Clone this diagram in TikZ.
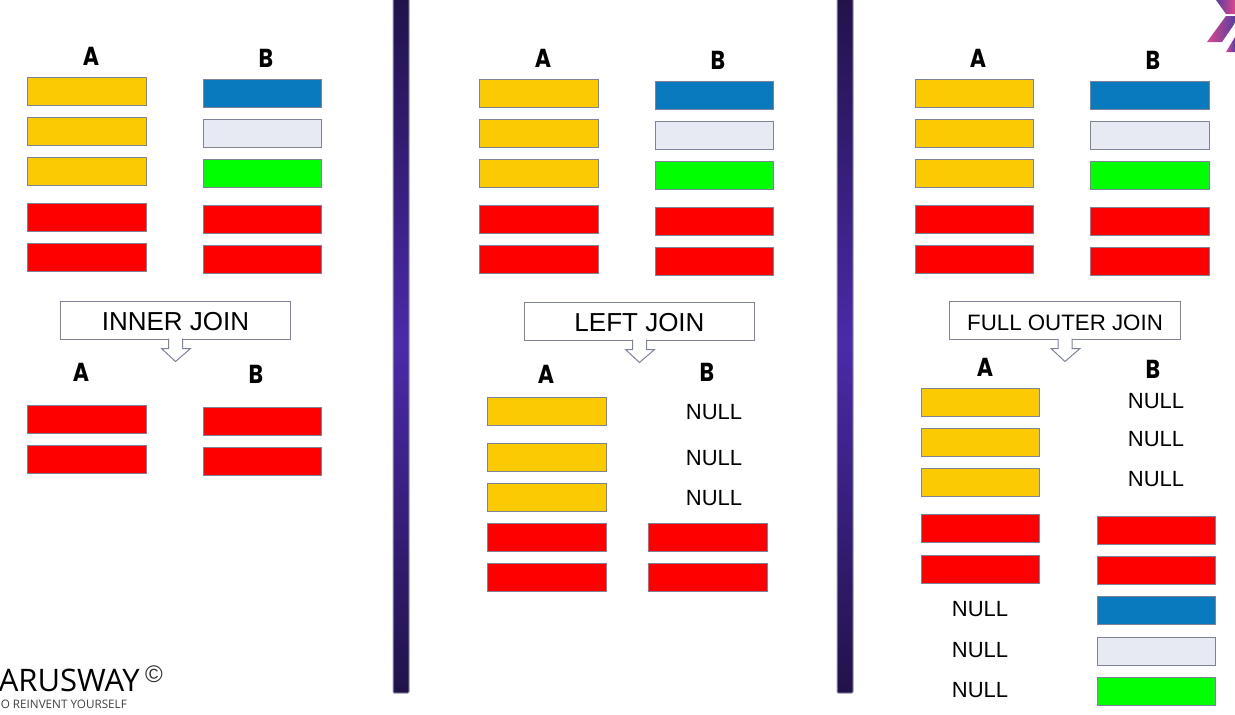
\documentclass[tikz,border=0pt]{standalone}
\usepackage{fontspec}
\setmainfont{Liberation Sans}
\newfontfamily\logofont{Open Sans}
\newfontfamily\headfont[FakeStretch=0.85]{Poppins}
\usetikzlibrary{positioning,calc}
\definecolor{edgegray}{HTML}{7F8398}
\definecolor{gold}{HTML}{FCCA03}
\definecolor{oceanblue}{HTML}{0A7ABF}
\definecolor{palegray}{HTML}{E8EAF3}
\definecolor{puregreen}{HTML}{00FF00}
\definecolor{purered}{HTML}{FF0000}
\definecolor{bardark}{HTML}{21124A}
\definecolor{barmid}{HTML}{4B2AA8}
\definecolor{chevpurple}{HTML}{5A3E9E}
\definecolor{chevpink}{HTML}{D9478F}

\begin{document}
\begin{tikzpicture}[x=1pt,y=-1pt,
	row/.style={rectangle, draw=edgegray, line width=1pt, fill=#1, minimum width=118.5pt, minimum height=28pt, inner sep=0pt},
	head/.style={font=\headfont\fontsize{26}{28}\selectfont\bfseries, inner sep=0pt},
	nulltext/.style={font=\fontsize{22}{24}\selectfont, inner sep=0pt},
	joinbox/.style={rectangle, draw=edgegray, line width=1pt, fill=white, minimum width=230.5pt, minimum height=38pt, inner sep=0pt, text height=21pt, text depth=0pt, font=\fontsize{#1}{28}\selectfont}]
	\useasboundingbox (0,0) rectangle (1235,715);
	\clip (0,0) rectangle (1235,715);
	
	% SEPARATORS
	
	\foreach \sepx in {393,837}
	\shade[top color=bardark, bottom color=bardark, middle color=barmid, draw=edgegray!80, line width=1pt, rounded corners=1pt] (\sepx,-5) rectangle (\sepx+16,693);
	
	% INNER JOIN
	
	\node [head] (innerA) at (91,56) {A};
	\node [head] (innerB) at (266,58) {B};
	\foreach \y/\c [count=\i] in {91/gold,131/gold,171/gold,217/purered,257/purered}
	\node [row=\c] (innerA\i) at (87,\y) {};
	\foreach \y/\c [count=\i] in {93/oceanblue,133/palegray,173/puregreen,219/purered,259/purered}
	\node [row=\c] (innerB\i) at (262.5,\y) {};
	\node [joinbox=26] (innerjoin) at (175.5,320) {INNER JOIN};
	\node [head] (innerresA) at (81,372) {A};
	\node [head] (innerresB) at (256,374) {B};
	\foreach \y [count=\i] in {419,459}
	\node [row=purered] (innerresA\i) at (87,\y) {};
	\foreach \y [count=\i] in {421,461}
	\node [row=purered] (innerresB\i) at (262.5,\y) {};
	
	% LEFT JOIN
	
	\node [head] (leftA) at (543,58) {A};
	\node [head] (leftB) at (718,60) {B};
	\foreach \y/\c [count=\i] in {93/gold,133/gold,173/gold,219/purered,259/purered}
	\node [row=\c] (leftA\i) at (539,\y) {};
	\foreach \y/\c [count=\i] in {95/oceanblue,135/palegray,175/puregreen,221/purered,261/purered}
	\node [row=\c] (leftB\i) at (714.5,\y) {};
	\node [joinbox=26] (leftjoin) at (639.5,321) {LEFT JOIN};
	\node [head] (leftresA) at (546,374) {A};
	\node [head] (leftresB) at (707,372) {B};
	\foreach \y/\c [count=\i] in {411/gold,457/gold,497/gold,537/purered,577/purered}
	\node [row=\c] (leftresA\i) at (547,\y) {};
	\foreach \y [count=\i] in {412,458,498}
	\node [nulltext] (leftnull\i) at (714,\y) {NULL};
	\foreach \y [count=\i] in {537,577}
	\node [row=purered] (leftresB\i) at (708,\y) {};
	
	% FULL OUTER JOIN
	
	\node [head] (fullA) at (978,58) {A};
	\node [head] (fullB) at (1153,60) {B};
	\foreach \y/\c [count=\i] in {93/gold,133/gold,173/gold,219/purered,259/purered}
	\node [row=\c] (fullA\i) at (974.5,\y) {};
	\foreach \y/\c [count=\i] in {95/oceanblue,135/palegray,175/puregreen,221/purered,261/purered}
	\node [row=\c] (fullB\i) at (1150,\y) {};
	\node [joinbox=22.3] (fulljoin) at (1065,320) {FULL OUTER JOIN};
	\node [head] (fullresA) at (985,367) {A};
	\node [head] (fullresB) at (1153,369) {B};
	\foreach \y/\c [count=\i] in {402/gold,442/gold,482/gold,528/purered,569/purered}
	\node [row=\c] (fullresA\i) at (980.5,\y) {};
	\foreach \y [count=\i] in {401,439,479}
	\node [nulltext] (fullnullB\i) at (1156,\y) {NULL};
	\foreach \y/\c [count=\i] in {530/purered,570/purered,610/oceanblue,651/palegray,691/puregreen}
	\node [row=\c] (fullresB\i) at (1156.5,\y) {};
	\foreach \y [count=\i] in {609,650,690}
	\node [nulltext] (fullnullA\i) at (980,\y) {NULL};
	
	% CALLOUT ARROWS
	
	\foreach \joinname in {innerjoin,leftjoin,fulljoin}
	\draw [edgegray, line width=1pt, fill=white, line join=miter]
		($(\joinname.south)+(-7,-1)$) -- ++(0,10) -- ++(-7,0) -- ++(14,13) -- ++(15,-13) -- ++(-8,0) -- ++(0,-10);
	
	% LOGO
	
	\node [anchor=base east, inner sep=0pt, font=\logofont\fontsize{31}{33}\selectfont] (logoname) at (140,691) {ARUSWAY};
	\node [anchor=center, inner sep=0pt, font=\fontsize{24}{26}\selectfont, text=black!80] (logomark) at (154,674) {©};
	\node [anchor=base east, inner sep=0pt, font=\logofont\fontsize{11.7}{13}\selectfont, text=black!75] (logoslogan) at (127,708) {O REINVENT YOURSELF};
	
	% CHEVRON
	
	\shade [left color=chevpurple, right color=chevpink]
		(1216,0) -- (1226,14) -- (1235,14) -- (1235,0) -- cycle;
	\shade [left color=chevpink, right color=chevpurple]
		(1226,16) -- (1207,42) -- (1222,42) -- (1235,23) -- (1235,16) -- cycle;
	\shade [left color=chevpink, right color=chevpurple]
		(1226,52) -- (1235,37) -- (1235,52) -- cycle;
\end{tikzpicture}
\end{document}
